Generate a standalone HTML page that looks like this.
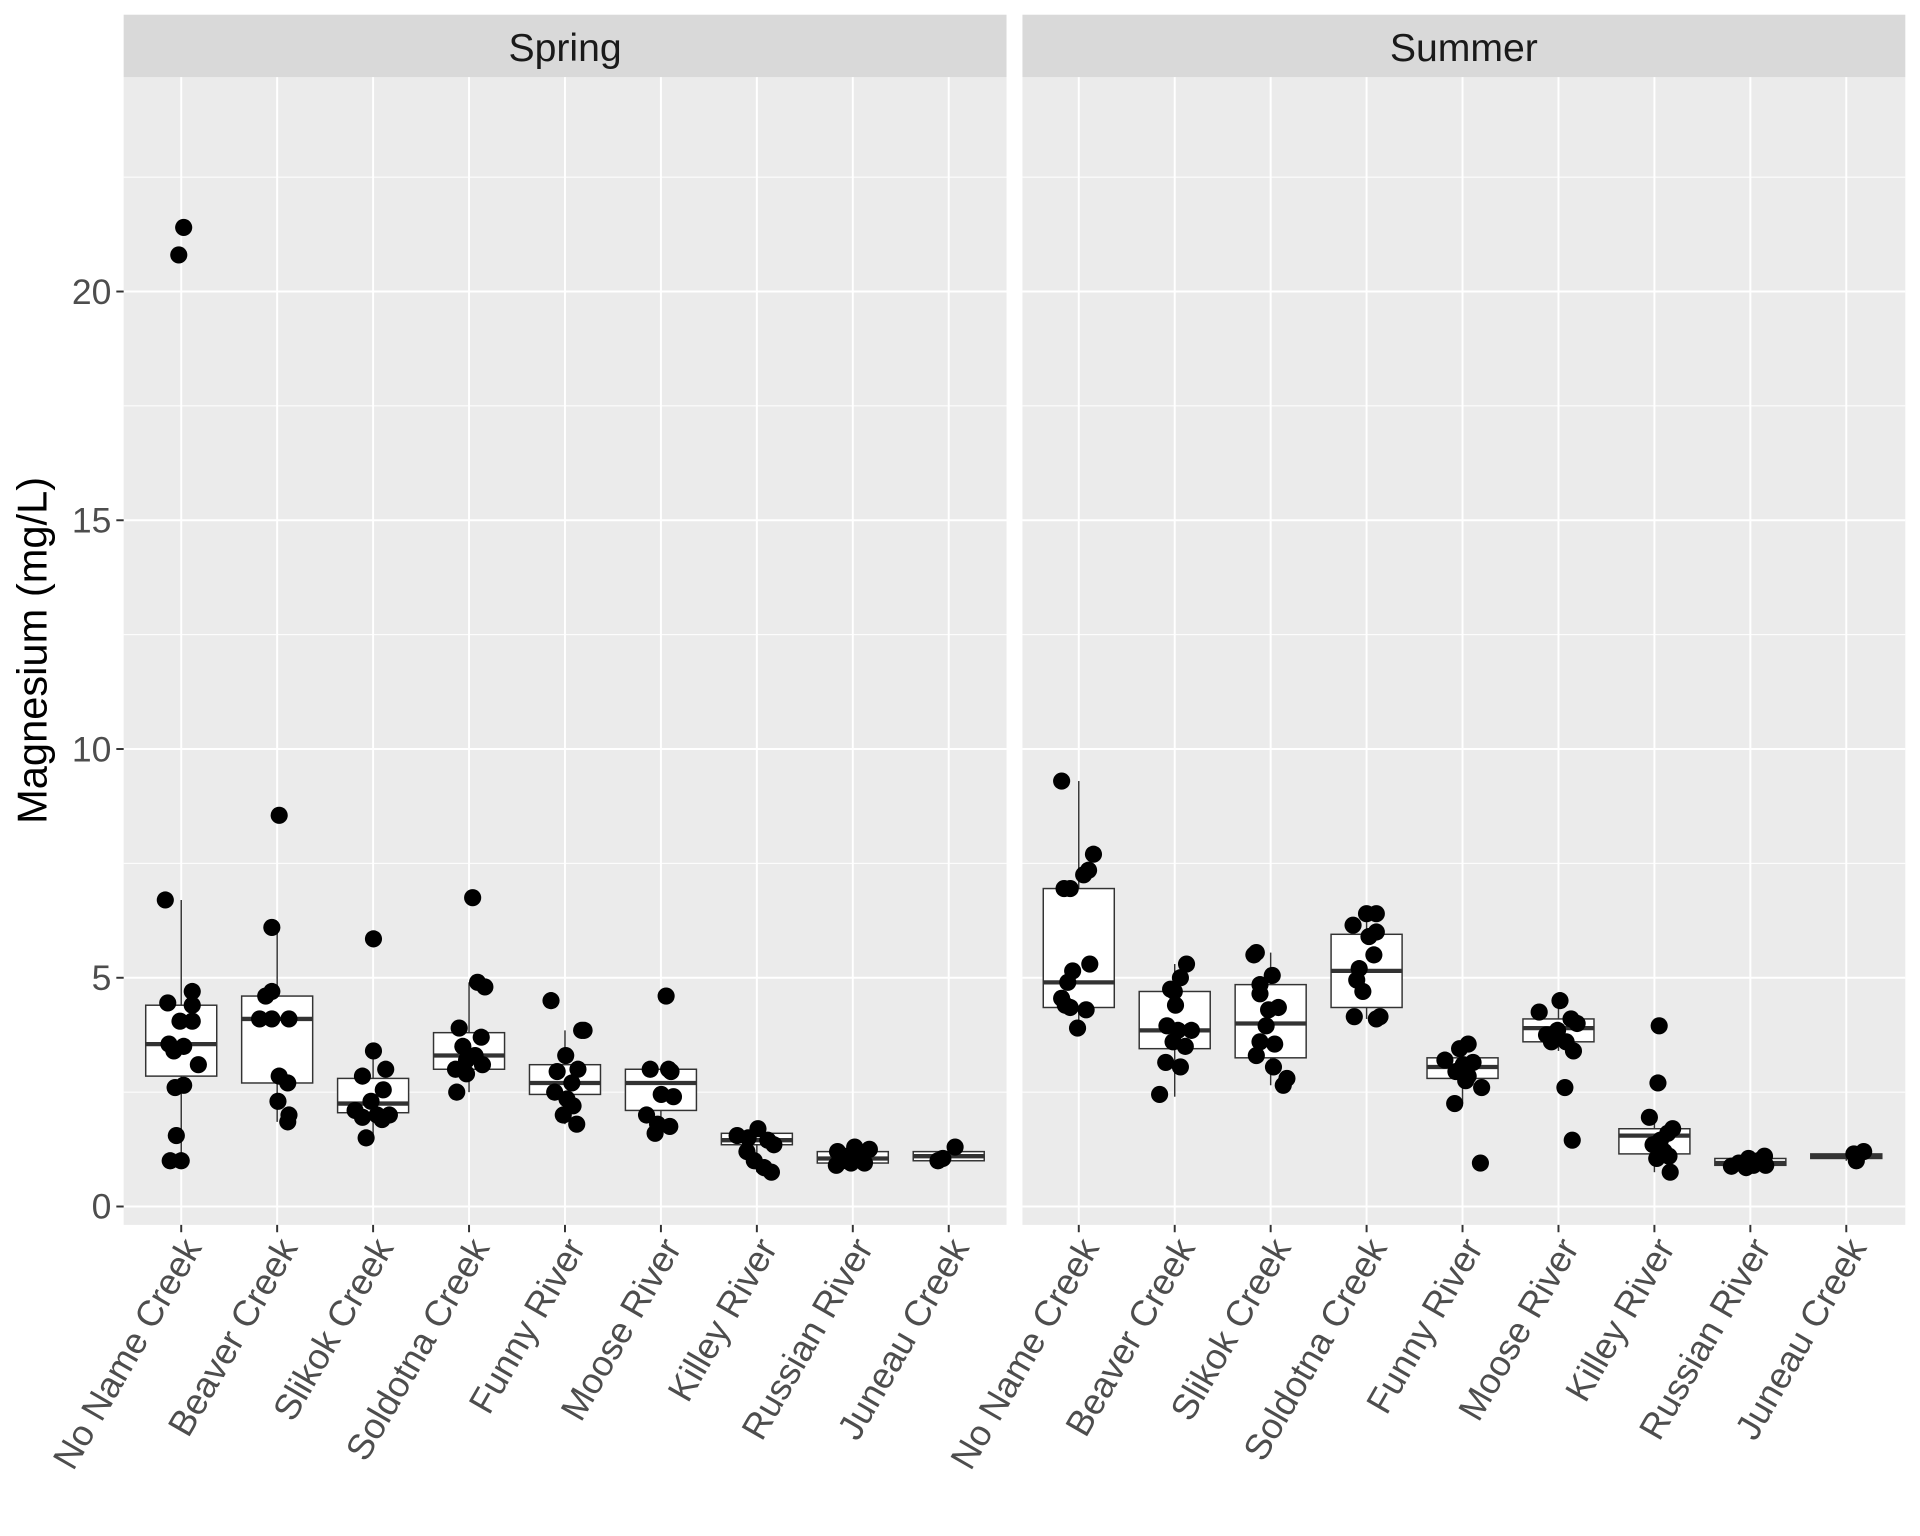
<!DOCTYPE html>
<html><head><meta charset="utf-8"><style>html,body{margin:0;padding:0;background:#fff}svg{display:block}</style></head>
<body>
<svg id="s" width="1920" height="1536" viewBox="0 0 1568 1254" preserveAspectRatio="none" xmlns="http://www.w3.org/2000/svg" font-family="Liberation Sans, Arial, sans-serif"></svg>
<script>
const Y=v=>985-37.35*v;
const names=["No Name Creek","Beaver Creek","Slikok Creek","Soldotna Creek","Funny River","Moose River","Killey River","Russian River","Juneau Creek"];
const panels=[{x0:101,x1:822,c0:148,t:"Spring"},{x0:835,x1:1556,c0:881,t:"Summer"}];
const sp=78.35;
const data=[[
[2.85,3.55,4.4,1.0,6.7,[[21.4,150],[20.8,146],[6.7,135],[4.7,157],[4.45,137],[4.4,157],[4.05,147],[4.05,157],[3.55,138],[3.5,150],[3.4,142],[3.1,162],[2.65,150],[2.6,143],[1.55,144],[1.0,139],[1.0,148]]],
[2.7,4.1,4.6,1.85,6.1,[[8.55,228],[6.1,222],[4.7,222],[4.6,217],[4.1,212],[4.1,222],[4.1,236],[2.85,228],[2.7,235],[2.3,227],[2.0,236],[1.85,235]]],
[2.05,2.25,2.8,1.5,3.4,[[5.85,305],[3.4,305],[3.0,315],[2.85,296],[2.55,313],[2.3,303],[2.1,290],[2.0,318],[2.0,308],[1.9,312],[1.5,299],[1.95,296]]],
[3.0,3.3,3.8,2.5,4.9,[[6.75,386],[4.9,390],[4.8,396],[3.9,375],[3.7,393],[3.5,378],[3.3,388],[3.1,394],[3.0,372],[2.9,381],[2.5,373],[3.2,381]]],
[2.45,2.7,3.1,1.8,3.85,[[4.5,450],[3.85,475],[3.85,477],[3.3,462],[3.0,472],[2.95,455],[2.7,467],[2.5,453],[2.35,463],[2.2,468],[2.0,460],[1.8,471]]],
[2.1,2.7,3.0,1.6,3.0,[[4.6,544],[3.0,531],[3.0,546],[2.95,548],[2.45,540],[2.4,550],[2.0,528],[1.8,537],[1.75,547],[1.6,535]]],
[1.35,1.45,1.6,0.75,1.7,[[1.7,619],[1.55,602],[1.5,611],[1.45,627],[1.35,632],[1.2,610],[1.0,616],[0.85,624],[0.75,630]]],
[0.95,1.05,1.2,0.9,1.3,[[1.3,698],[1.25,710],[1.2,684],[1.15,703],[1.1,692],[1.05,700],[1.0,688],[0.95,706],[0.9,683],[0.95,695]]],
[1.0,1.1,1.2,1.0,1.3,[[1.3,780],[1.05,770],[1.0,766]]]
],[
[4.35,4.9,6.95,3.9,9.3,[[9.3,867],[7.7,893],[7.35,889],[7.25,885],[6.95,869],[6.95,874],[5.3,890],[5.15,876],[4.9,872],[4.55,867],[4.4,870],[4.3,887],[4.35,874],[3.9,880]]],
[3.45,3.85,4.7,2.4,5.3,[[5.3,969],[5.0,964],[4.75,956],[4.7,959],[4.4,960],[3.95,953],[3.85,973],[3.85,962],[3.6,958],[3.5,968],[3.15,952],[3.05,964],[2.45,947]]],
[3.25,4.0,4.85,2.65,5.55,[[5.55,1026],[5.5,1024],[5.05,1039],[4.85,1029],[4.65,1029],[4.35,1044],[4.3,1036],[3.95,1034],[3.6,1029],[3.55,1041],[3.3,1026],[3.05,1040],[2.8,1051],[2.65,1048]]],
[4.35,5.15,5.95,4.1,6.4,[[6.4,1116],[6.4,1124],[6.15,1105],[6.0,1124],[5.9,1118],[5.5,1122],[5.2,1110],[4.95,1108],[4.7,1113],[4.15,1106],[4.1,1124],[4.15,1127]]],
[2.8,3.05,3.25,2.25,3.55,[[3.55,1199],[3.45,1192],[3.2,1180],[3.15,1203],[3.1,1195],[2.95,1189],[2.85,1199],[2.75,1197],[2.6,1210],[2.25,1188],[0.95,1209]]],
[3.6,3.9,4.1,3.4,4.5,[[4.5,1274],[4.25,1257],[4.1,1283],[4.0,1288],[3.85,1272],[3.75,1263],[3.6,1267],[3.6,1279],[3.4,1285],[2.6,1278],[1.45,1284]]],
[1.15,1.55,1.7,0.75,1.95,[[3.95,1355],[2.7,1354],[1.95,1347],[1.7,1366],[1.6,1362],[1.45,1356],[1.35,1350],[1.2,1359],[1.1,1363],[1.05,1353],[0.75,1364]]],
[0.9,0.95,1.05,0.85,1.1,[[1.1,1441],[1.05,1428],[1.0,1436],[0.95,1420],[0.9,1432],[0.88,1414],[0.9,1442],[0.85,1426]]],
[1.05,1.1,1.15,1.0,1.2,[[1.2,1522],[1.15,1514],[1.0,1516]]]
]];
let h='';
panels.forEach((p,pi)=>{
  h+=`<rect x="${p.x0}" y="63" width="${p.x1-p.x0}" height="937" fill="#ebebeb"/>`;
  h+=`<rect x="${p.x0}" y="12" width="${p.x1-p.x0}" height="51" fill="#d9d9d9"/>`;
  h+=`<text x="${(p.x0+p.x1)/2}" y="50" font-size="32" text-anchor="middle" fill="#1a1a1a">${p.t}</text>`;
  for(let v=2.5;v<25;v+=5)h+=`<line x1="${p.x0}" x2="${p.x1}" y1="${Y(v)}" y2="${Y(v)}" stroke="#fff" stroke-width="0.8"/>`;
  for(let v=0;v<25;v+=5)h+=`<line x1="${p.x0}" x2="${p.x1}" y1="${Y(v)}" y2="${Y(v)}" stroke="#fff" stroke-width="1.6"/>`;
  for(let i=0;i<9;i++){const x=p.c0+i*sp;h+=`<line x1="${x}" x2="${x}" y1="63" y2="1000" stroke="#fff" stroke-width="1.6"/>`;
    h+=`<line x1="${x}" x2="${x}" y1="1000" y2="1006" stroke="#333" stroke-width="1.6"/>`;
    h+=`<text transform="translate(${x-1},1008) rotate(-60)" text-anchor="end" dy="0.72em" font-size="29.5" fill="#4d4d4d">${names[i]}</text>`;}
  data[pi].forEach((d,i)=>{const x=p.c0+i*sp,w=29;
    h+=`<line x1="${x}" x2="${x}" y1="${Y(d[4])}" y2="${Y(d[2])}" stroke="#333" stroke-width="1.2"/>`;
    h+=`<line x1="${x}" x2="${x}" y1="${Y(d[0])}" y2="${Y(d[3])}" stroke="#333" stroke-width="1.2"/>`;
    h+=`<rect x="${x-w}" y="${Y(d[2])}" width="${2*w}" height="${Y(d[0])-Y(d[2])}" fill="#fff" stroke="#333" stroke-width="1.2"/>`;
    h+=`<line x1="${x-w}" x2="${x+w}" y1="${Y(d[1])}" y2="${Y(d[1])}" stroke="#333" stroke-width="3.5"/>`;
    d[5].forEach(q=>{h+=`<circle cx="${q[1]}" cy="${Y(q[0])}" r="7" fill="#000"/>`;});
  });
});
for(let v=0;v<25;v+=5){h+=`<line x1="95" x2="101" y1="${Y(v)}" y2="${Y(v)}" stroke="#333" stroke-width="1.6"/>`;
  h+=`<text x="91" y="${Y(v)+10}" font-size="29" text-anchor="end" fill="#4d4d4d">${v}</text>`;}
h+=`<text transform="translate(38,531) rotate(-90)" font-size="34" text-anchor="middle" fill="#000">Magnesium (mg/L)</text>`;
document.getElementById('s').innerHTML=h;
</script>
</body></html>
